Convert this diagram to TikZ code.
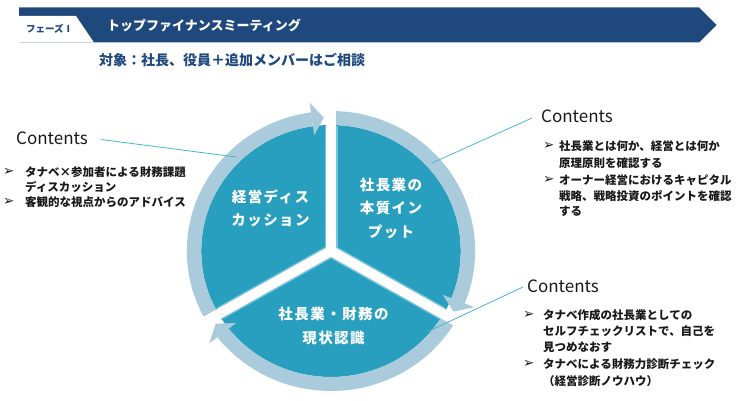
\documentclass[tikz,border=0pt]{standalone}
\usepackage{fontspec}
\setmainfont{Noto Sans CJK JP}
\newfontfamily\mk{DejaVu Sans}
\usetikzlibrary{calc}
\definecolor{navy}{RGB}{31,73,125}
\definecolor{secteal}{RGB}{41,159,191}
\definecolor{ringblue}{RGB}{170,203,219}
\definecolor{gapedge}{RGB}{120,196,220}
\definecolor{leadc}{RGB}{72,180,210}
\definecolor{txt}{RGB}{25,25,25}
\tikzset{
 line/.style={anchor=west, inner sep=0, text=txt, font=\fontsize{11.5}{14}\selectfont\bfseries},
 bul/.style={anchor=west, inner sep=0, text=txt, font=\mk\fontsize{13.5}{14}\selectfont},
 cont/.style={anchor=west, inner sep=0, text=txt, font=\fontsize{17}{20}\selectfont},
 lab/.style={text=white, inner sep=0, align=center},
 lead/.style={draw=leadc, line width=0.8pt},
}
\begin{document}
\begin{tikzpicture}[x=1pt,y=1pt]
\useasboundingbox (0,0) rectangle (737,400);
% banner
\fill[navy] (19,357.5) -- (19,392.5) -- (699,392.5) -- (716.5,375) -- (699,357.5) -- cycle;
\fill[white] (19,357.5) -- (19,384) -- (76,384) -- (94,357.5) -- cycle;
\node[anchor=west, inner sep=0, text=navy, font=\fontsize{9.5}{11}\selectfont\bfseries] (phase) at (26,371) {フェーズⅠ};
\node[anchor=west, inner sep=0, text=white, font=\fontsize{13}{15}\selectfont\bfseries] (title) at (107,375) {トップファイナンスミーティング};
\node[anchor=west, inner sep=0, text=navy, font=\fontsize{14}{16}\selectfont\bfseries] (target) at (99,340) {対象：社長、役員＋追加メンバーはご相談};

% circle
\begin{scope}[shift={(331,149)}, xscale=1.03]
 \fill[secteal] (0,0) circle[radius=126];
 \foreach \g in {90,-30,-150}{
   \pgfmathsetmacro\s{\g+120}
   \pgfmathsetmacro\e{\g+8}
   \pgfmathsetmacro\t{\g+3}
   \fill[ringblue] (\s:126) arc[start angle=\s, end angle=\e, radius=126] -- (\e:140) arc[start angle=\e, end angle=\s, radius=140] -- cycle;
   \fill[ringblue] (\e:117) -- (\e:150) -- (\t:133.5) -- cycle;
 }
 \foreach \a in {90,210,330}{
   \draw[gapedge, line width=13pt] (0,0) -- (\a:125);
 }
 \foreach \a in {90,210,330}{
   \draw[white, line width=10pt] (0,0) -- (\a:170);
 }
\end{scope}

% circle labels
\node[lab, font=\fontsize{14.5}{23.5}\selectfont\bfseries\addfontfeature{LetterSpace=10}] (n1) at (270.5,191.5) {経営ディス\\カッション};
\node[lab, font=\fontsize{14.5}{23.5}\selectfont\bfseries\addfontfeature{LetterSpace=10}] (n2) at (391,191.5) {社長業の\\本質イン\\プット};
\node[lab, font=\fontsize{14.5}{24.5}\selectfont\bfseries\addfontfeature{LetterSpace=10}] (n3) at (333.5,74) {社長業・財務の\\現状認識};

% left contents
\node[cont] (cL) at (16,261.5) {Contents};
\node[bul] (bL1) at (3,228.3) {➢};
\node[line] (tL1) at (25,228.3) {タナベ×参加者による財務課題};
\node[line] (tL2) at (25,213) {ディスカッション};
\node[bul] (bL3) at (3,198.3) {➢};
\node[line] (tL3) at (25,198.3) {客観的な視点からのアドバイス};

% top-right contents
\node[cont] (cR) at (541,283.5) {Contents};
\node[bul] (bR1) at (543,254.3) {➢};
\node[line] (tR1) at (559,254.3) {社長業とは何か、経営とは何か};
\node[line] (tR2) at (559,237) {原理原則を確認する};
\node[bul] (bR3) at (543,220) {➢};
\node[line] (tR3) at (559,220) {オーナー経営におけるキャピタル};
\node[line] (tR4) at (559,204) {戦略、戦略投資のポイントを確認};
\node[line] (tR5) at (559,189) {する};

% bottom-right contents
\node[cont] (cB) at (527,114) {Contents};
\node[bul] (bB1) at (523,85) {➢};
\node[line] (tB1) at (543,85) {タナベ作成の社長業としての};
\node[line] (tB2) at (543,69) {セルフチェックリストで、自己を};
\node[line] (tB3) at (543,52.3) {見つめなおす};
\node[bul] (bB4) at (523,36) {➢};
\node[line] (tB4) at (543,36) {タナベによる財務力診断チェック};
\node[line] (tB5) at (543,19) {（経営診断ノウハウ）};

% leader lines
\coordinate (sL) at ($(cL.east)+(13,-1)$);
\coordinate (eL) at (236,243);
\coordinate (sR) at ($(cR.west)+(-9,-1.5)$);
\coordinate (eR) at (432,237);
\coordinate (sB) at ($(cB.west)+(-4,-1)$);
\coordinate (eB) at (427,68);
\draw[lead] (sL) -- (eL);
\draw[lead] (sR) -- (eR);
\draw[lead] (sB) -- (eB);
\end{tikzpicture}
\end{document}
